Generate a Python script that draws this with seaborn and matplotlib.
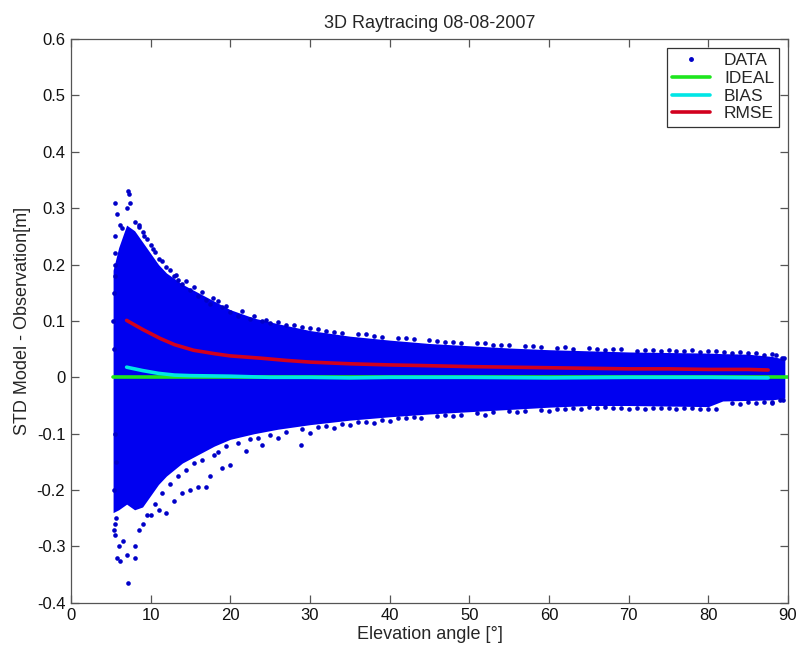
import matplotlib
matplotlib.use("Agg")
import matplotlib.pyplot as plt
from matplotlib.lines import Line2D
import seaborn as sns
import pandas as pd

# ---- data ----
# envelope of the dense data cloud (elevation [deg], upper / lower difference [m])
env_elev = [5.3, 6.0, 7.0, 8.0, 9.0, 10.0, 11.0, 12.0, 14.0, 16.0, 18.0, 20.0, 23.0, 26.0,
            30.0, 35.0, 40.0, 45.0, 50.0, 55.0, 60.0, 65.0, 70.0, 75.0, 80.0, 81.8, 85.0, 88.0, 89.6]
env_upper = [0.19, 0.23, 0.27, 0.26, 0.24, 0.22, 0.2, 0.185, 0.165, 0.15, 0.135, 0.12, 0.105, 0.095,
             0.083, 0.073, 0.066, 0.06, 0.056, 0.052, 0.049, 0.047, 0.045, 0.044, 0.043, 0.042, 0.041, 0.037, 0.032]
env_lower = [-0.24, -0.235, -0.225, -0.235, -0.23, -0.21, -0.19, -0.175, -0.152, -0.137, -0.122, -0.11, -0.1, -0.092,
             -0.084, -0.076, -0.07, -0.065, -0.061, -0.057, -0.053, -0.05, -0.05, -0.051, -0.052, -0.042, -0.041, -0.04, -0.037]

# individual scattered points near the edges of the cloud
out_elev = [5.5, 5.8, 7.2, 7.3, 7.4, 7.0, 6.2, 6.4, 8.0, 8.5, 9.0, 9.5, 10.0, 10.5, 11.0, 12.0, 13.0,
            13.5, 14.0, 15.0, 16.0, 17.0, 17.5, 19.0, 20.0, 21.0, 22.5, 24.0, 25.0, 27.0, 30.0, 33.0,
            36.0, 38.0, 42.0, 45.0, 48.0, 52.0, 55.0, 58.0, 62.0, 65.0, 68.0, 72.0, 75.0, 78.0, 81.0,
            84.0, 86.0, 88.0, 89.3,
            8.5, 9.2, 10.3, 11.5, 12.5, 13.2, 14.5, 15.5, 16.5, 17.8, 18.5, 19.5, 21.5, 23.0, 24.5, 26.0,
            28.0, 29.0, 31.0, 32.0, 34.0, 37.0, 39.0, 41.0, 43.0, 46.0, 47.0, 49.0, 51.0, 53.0, 54.0, 57.0,
            59.0, 61.0, 63.0, 66.0, 67.0, 69.0, 71.0, 73.0, 74.0, 76.0, 77.0, 79.0, 80.0, 82.0, 83.0, 85.0,
            87.0, 88.5, 89.5,
            7.2, 5.8, 6.2, 7.0, 8.0, 6.0, 6.5, 8.0, 8.5, 9.0, 10.0, 11.0, 12.0, 13.0, 14.0, 15.0, 16.0,
            17.0, 17.5, 19.0, 20.0, 22.0, 24.0, 26.0, 28.9, 30.0, 33.0, 35.0, 38.0, 40.0, 44.0, 48.0,
            52.0, 56.0, 60.0, 64.0, 68.0, 70.0, 72.0, 76.0, 80.0, 84.0, 88.0, 89.4,
            9.5, 10.5, 11.5, 12.5, 13.5, 14.5, 15.5, 16.5, 18.0, 18.5, 19.5, 21.0, 22.5, 23.5, 25.0, 27.0,
            29.0, 31.0, 32.0, 34.0, 36.0, 37.0, 39.0, 41.0, 42.0, 43.0, 46.0, 47.0, 49.0, 51.0, 53.0, 55.0,
            57.0, 59.0, 61.0, 62.0, 63.0, 65.0, 66.0, 67.0, 69.0, 71.0, 73.0, 74.0, 75.0, 77.0, 78.0, 79.0,
            81.0, 83.0, 85.0, 86.0, 87.0, 88.0, 89.0,
            5.4, 5.5, 5.6, 5.4, 5.7, 5.5, 5.6, 5.4, 5.5, 5.3, 5.6, 5.4, 5.7, 5.5]
out_diff = [0.31, 0.29, 0.33, 0.325, 0.31, 0.30, 0.27, 0.265, 0.275, 0.27, 0.258, 0.245, 0.235, 0.222, 0.21, 0.195, 0.18,
            0.172, 0.165, 0.155, 0.145, 0.138, 0.13, 0.125, 0.115, 0.108, 0.103, 0.1, 0.097, 0.092, 0.087, 0.081,
            0.077, 0.073, 0.07, 0.067, 0.063, 0.06, 0.058, 0.055, 0.054, 0.052, 0.05, 0.049, 0.048, 0.048, 0.046,
            0.045, 0.043, 0.041, 0.035,
            0.266, 0.25, 0.228, 0.206, 0.19, 0.182, 0.17, 0.16, 0.152, 0.14, 0.136, 0.127, 0.117, 0.109, 0.101, 0.098,
            0.092, 0.089, 0.085, 0.083, 0.079, 0.076, 0.071, 0.07, 0.068, 0.065, 0.063, 0.061, 0.06, 0.058, 0.057, 0.056,
            0.054, 0.052, 0.051, 0.05, 0.048, 0.05, 0.047, 0.048, 0.046, 0.046, 0.047, 0.045, 0.046, 0.045, 0.043, 0.044,
            0.04, 0.039, 0.035,
            -0.365, -0.32, -0.325, -0.315, -0.32, -0.30, -0.29, -0.30, -0.27, -0.26, -0.245, -0.235, -0.24, -0.22, -0.205, -0.2, -0.195,
            -0.195, -0.175, -0.16, -0.155, -0.13, -0.12, -0.108, -0.12, -0.098, -0.09, -0.085, -0.081, -0.077, -0.073, -0.069,
            -0.066, -0.062, -0.059, -0.057, -0.055, -0.057, -0.056, -0.056, -0.057, -0.047, -0.045, -0.041,
            -0.245, -0.225, -0.205, -0.19, -0.175, -0.165, -0.152, -0.147, -0.137, -0.132, -0.122, -0.117, -0.11, -0.107, -0.102, -0.097,
            -0.092, -0.088, -0.087, -0.083, -0.08, -0.079, -0.076, -0.073, -0.072, -0.071, -0.068, -0.067, -0.066, -0.063, -0.062, -0.06,
            -0.06, -0.058, -0.056, -0.057, -0.055, -0.053, -0.054, -0.053, -0.055, -0.054, -0.055, -0.054, -0.055, -0.054, -0.055, -0.056,
            -0.056, -0.045, -0.044, -0.046, -0.043, -0.044, -0.04,
            -0.27, -0.26, -0.28, -0.2, -0.15, 0.22, 0.25, 0.15, 0.2, 0.1, -0.1, 0.05, -0.25, 0.18]

# model statistics lines
rmse_elev = [7.0, 9.0, 11.2, 13.0, 15.4, 18.0, 20.0, 23.8, 27.0, 30.0, 35.0, 40.0, 43.6, 50.0, 55.0,
             60.0, 65.0, 70.0, 75.0, 80.0, 85.0, 87.5]
rmse_val = [0.101, 0.085, 0.069, 0.058, 0.048, 0.042, 0.038, 0.034, 0.030, 0.027, 0.024, 0.022, 0.021, 0.019, 0.018,
            0.017, 0.016, 0.015, 0.015, 0.014, 0.014, 0.013]
bias_elev = [7.0, 9.0, 11.0, 13.0, 15.0, 20.0, 25.0, 30.0, 35.0, 40.0, 50.0, 60.0, 70.0, 80.0, 87.5]
bias_val = [0.018, 0.012, 0.007, 0.004, 0.003, 0.002, 0.0, 0.0, -0.001, 0.0, 0.0, -0.001, 0.0, 0.0, -0.001]
ideal_elev = [5.3, 90.0]
ideal_val = [0.0, 0.0]

x_ticks = [0, 10, 20, 30, 40, 50, 60, 70, 80, 90]
y_ticks = [-0.4, -0.3, -0.2, -0.1, 0, 0.1, 0.2, 0.3, 0.4, 0.5, 0.6]
y_tick_labels = ["-0.4", "-0.3", "-0.2", "-0.1", "0", "0.1", "0.2", "0.3", "0.4", "0.5", "0.6"]

# ---- plotting ----
sns.set_style("white")
plt.rcParams["font.family"] = ["Liberation Sans", "DejaVu Sans"]

fig = plt.figure(figsize=(7.96, 6.51), dpi=100)
ax = fig.add_axes([0.089, 0.074, 0.901, 0.866])

ax.fill_between(env_elev, env_lower, env_upper, color="#0000f0", linewidth=0, zorder=1)

pts = pd.DataFrame({"elev": out_elev, "diff": out_diff})
sns.scatterplot(data=pts, x="elev", y="diff", ax=ax, color="#0000c8", s=11, marker="o",
                linewidth=0, zorder=2, legend=False)

ideal = pd.DataFrame({"elev": ideal_elev, "v": ideal_val})
bias = pd.DataFrame({"elev": bias_elev, "v": bias_val})
rmse = pd.DataFrame({"elev": rmse_elev, "v": rmse_val})
sns.lineplot(data=ideal, x="elev", y="v", ax=ax, color="#1ee61e", linewidth=2.6, zorder=3)
sns.lineplot(data=bias, x="elev", y="v", ax=ax, color="#00e6e6", linewidth=2.6, zorder=4)
sns.lineplot(data=rmse, x="elev", y="v", ax=ax, color="#d2001e", linewidth=2.6, zorder=5)

ax.set_xlim(0, 90)
ax.set_ylim(-0.4, 0.6)
ax.set_xticks(x_ticks)
ax.set_xticklabels([str(t) for t in x_ticks])
ax.set_yticks(y_ticks)
ax.set_yticklabels(y_tick_labels)
ax.tick_params(direction="in", length=6, width=0.9, color="#555555", labelsize=12,
               top=True, right=True, bottom=True, left=True, pad=4, labelcolor="#111111")
for s in ax.spines.values():
    s.set_visible(True)
    s.set_color("#555555")
    s.set_linewidth(0.9)

ax.set_xlabel("Elevation angle [°]", fontsize=13, labelpad=2)
ax.set_ylabel("STD Model - Observation[m]", fontsize=13, labelpad=4)
ax.set_title("3D Raytracing 08-08-2007", fontsize=13, pad=8)

handles = [
    Line2D([], [], linestyle="none", marker="o", markersize=2.5, color="#0000c8"),
    Line2D([], [], color="#1ee61e", linewidth=2.6),
    Line2D([], [], color="#00e6e6", linewidth=2.6),
    Line2D([], [], color="#d2001e", linewidth=2.6),
]
leg = ax.legend(handles, ["DATA", "IDEAL", "BIAS", "RMSE"], loc="upper right",
                fontsize=12.5, frameon=True, fancybox=False, framealpha=1,
                edgecolor="#333333", borderpad=0.3, labelspacing=0.15,
                handlelength=2.2, handletextpad=0.8, borderaxespad=0.5)
leg.get_frame().set_linewidth(0.9)

fig.savefig("out.png", dpi=100)
